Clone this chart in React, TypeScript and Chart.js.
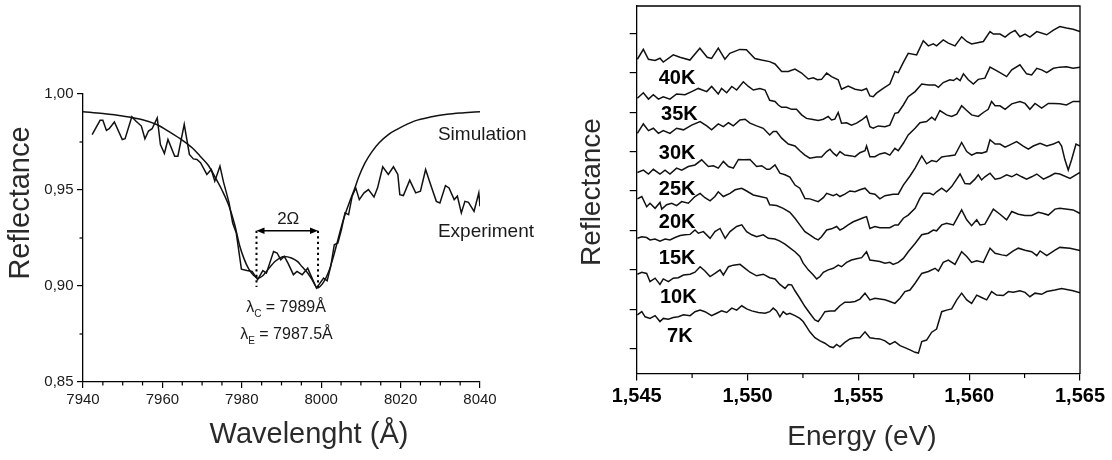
import React, { useEffect, useRef } from "react";
import { Chart, registerables } from "chart.js";

Chart.register(...registerables);

const FONT = '"Liberation Sans", Arial, Helvetica, sans-serif';
const INK = "#1a1a1a";

// ---------------- Left panel data ----------------
const wavelengthTicks = [7940, 7960, 7980, 8000, 8020, 8040];
const reflectanceTicks = [0.85, 0.9, 0.95, 1.0];
const reflectanceMinorTicks = [0.875, 0.925, 0.975];

const experiment: [number, number][] = [
  [7942.3, 0.9789], [7944.3, 0.9863], [7945.0, 0.9863], [7945.9, 0.981], [7946.6, 0.9819],
  [7947.9, 0.9854], [7949.9, 0.9763], [7950.6, 0.9767], [7952.3, 0.9882], [7953.3, 0.9859],
  [7954.7, 0.9833], [7955.6, 0.9767], [7956.5, 0.9807], [7957.4, 0.9819], [7958.7, 0.9875],
  [7959.5, 0.9737], [7960.5, 0.969], [7961.4, 0.9763], [7963.1, 0.9676], [7963.9, 0.9676],
  [7965.5, 0.9842], [7966.8, 0.9685], [7967.8, 0.9662], [7968.7, 0.9659], [7969.6, 0.9642],
  [7971.2, 0.9581], [7972.3, 0.9607], [7973.2, 0.9546], [7974.5, 0.9624], [7975.4, 0.9541],
  [7976.8, 0.9433], [7977.7, 0.9328], [7978.6, 0.9276], [7979.9, 0.9088], [7981.3, 0.9081],
  [7982.6, 0.9076], [7984.0, 0.9033], [7985.3, 0.908], [7986.2, 0.9067], [7988.0, 0.918],
  [7988.9, 0.9172], [7989.8, 0.9137], [7990.7, 0.9154], [7991.6, 0.912], [7993.0, 0.9059],
  [7993.9, 0.9076], [7995.2, 0.9059], [7996.6, 0.9093], [7997.5, 0.905], [7998.8, 0.8989],
  [7999.7, 0.9015], [8000.6, 0.9041], [8001.5, 0.9027], [8002.4, 0.9102], [8003.3, 0.9215],
  [8004.2, 0.9224], [8005.1, 0.9294], [8006.0, 0.9381], [8006.9, 0.9372], [8007.8, 0.9468],
  [8008.7, 0.9511], [8009.6, 0.945], [8010.8, 0.9485], [8011.9, 0.9502], [8013.3, 0.9464],
  [8014.2, 0.9511], [8015.5, 0.9621], [8016.9, 0.9581], [8018.2, 0.9621], [8019.3, 0.9581],
  [8019.8, 0.9476], [8020.7, 0.9471], [8022.3, 0.9551], [8023.8, 0.9485], [8025.0, 0.9494],
  [8026.3, 0.9607], [8027.7, 0.952], [8029.0, 0.9441], [8029.9, 0.9433], [8031.3, 0.9523],
  [8032.2, 0.9511], [8033.5, 0.945], [8034.3, 0.9468], [8035.3, 0.9381], [8036.2, 0.9441],
  [8037.1, 0.9436], [8038.5, 0.9389], [8039.7, 0.9485], [8040.0, 0.9415],
];

const simulation: [number, number][] = [
  [7940, 0.9908], [7945, 0.9898], [7950, 0.9885], [7955, 0.9866], [7958.7, 0.984],
  [7962, 0.98], [7965, 0.976], [7967.5, 0.972], [7969.5, 0.9676], [7971.5, 0.963],
  [7973.2, 0.957], [7975, 0.95], [7976.8, 0.9415], [7978.2, 0.932], [7979.5, 0.9207],
  [7980.6, 0.914], [7981.7, 0.909], [7983, 0.9055], [7984.1, 0.904], [7985.2, 0.9052],
  [7986.2, 0.9076], [7988.5, 0.913], [7990.7, 0.9154], [7992.5, 0.9146], [7994, 0.9128],
  [7995.2, 0.91], [7996.5, 0.907], [7997.5, 0.904], [7999.1, 0.899], [8000.6, 0.902],
  [8001.8, 0.907], [8002.9, 0.914], [8004.2, 0.924], [8005.6, 0.9346], [8007, 0.943],
  [8008.3, 0.95], [8009.5, 0.957], [8011, 0.964], [8012.8, 0.97], [8014.6, 0.9746],
  [8017, 0.979], [8019.1, 0.9816], [8023.6, 0.986], [8027.5, 0.988], [8031.7, 0.9894],
  [8036, 0.9902], [8040, 0.9908],
];

// annotation anchors (data units)
const omegaLeft = 7983.7;
const omegaRight = 7999.2;
const omegaArrowR = 0.9288;
const omegaDotBottomR = 0.8995;

// ---------------- Right panel data ----------------
const energyTicks = [1.545, 1.55, 1.555, 1.56, 1.565];
const energyMinorTicks = [1.5475, 1.5525, 1.5575, 1.5625];
const offsetTicks = [0, 1, 2, 3, 4, 5, 6, 7, 8];

const curve40K: [number, number][] = [
  [1.54503, 7.34], [1.5453, 7.59], [1.54553, 7.34], [1.54583, 7.31], [1.54605, 7.365],
  [1.5462, 7.27], [1.54665, 7.45], [1.54695, 7.39], [1.5474, 7.32], [1.54785, 7.62],
  [1.54818, 7.39], [1.54838, 7.36], [1.54868, 7.62], [1.54898, 7.34], [1.5492, 7.49],
  [1.54965, 7.59], [1.54995, 7.58], [1.55033, 7.36], [1.55063, 7.32], [1.551, 7.28],
  [1.55124, 7.22], [1.55154, 7.03], [1.55184, 7.03], [1.55214, 7.09], [1.55244, 6.99],
  [1.55274, 6.84], [1.55297, 6.87], [1.55315, 6.82], [1.55334, 6.83], [1.55357, 6.99],
  [1.55379, 6.9], [1.55409, 6.82], [1.55424, 6.58], [1.55454, 6.66], [1.55485, 6.58],
  [1.55515, 6.55], [1.55537, 6.6], [1.55552, 6.41], [1.55567, 6.39], [1.55582, 6.48],
  [1.55612, 6.6], [1.55642, 6.71], [1.55665, 7.03], [1.5568, 7.0], [1.55703, 7.26],
  [1.55725, 7.49], [1.55763, 7.45], [1.55793, 7.81], [1.55816, 7.68], [1.55838, 7.73],
  [1.55853, 7.68], [1.55883, 7.83], [1.55906, 7.75], [1.55936, 7.68], [1.55966, 7.91],
  [1.55989, 7.79], [1.56011, 7.73], [1.56064, 7.79], [1.56094, 8.04], [1.56109, 7.98],
  [1.56139, 7.98], [1.56162, 7.9], [1.56184, 8.0], [1.56207, 8.07], [1.56229, 7.91],
  [1.56252, 7.98], [1.56274, 7.9], [1.56305, 8.04], [1.5635, 7.96], [1.5638, 8.08],
  [1.56409, 8.17], [1.56439, 8.13], [1.56469, 8.1], [1.565, 8.04],
];

const curve35K: [number, number][] = [
  [1.54503, 6.35], [1.5453, 6.49], [1.54553, 6.33], [1.54575, 6.44], [1.54598, 6.33],
  [1.5462, 6.39], [1.5465, 6.33], [1.5468, 6.46], [1.54718, 6.44], [1.54748, 6.52],
  [1.54778, 6.6], [1.54816, 6.52], [1.54838, 6.65], [1.54868, 6.46], [1.54883, 6.6],
  [1.54906, 6.49], [1.54929, 6.65], [1.54951, 6.56], [1.54981, 6.77], [1.55004, 6.65],
  [1.55026, 6.56], [1.55056, 6.6], [1.55079, 6.56], [1.551, 6.3], [1.55124, 6.27],
  [1.55139, 6.18], [1.55154, 6.12], [1.55176, 6.12], [1.55199, 6.07], [1.55221, 6.07],
  [1.55244, 5.93], [1.55266, 5.84], [1.55289, 5.82], [1.55319, 5.79], [1.55342, 5.82],
  [1.55364, 5.89], [1.55379, 5.8], [1.55394, 5.82], [1.55409, 5.99], [1.55424, 5.72],
  [1.55447, 5.73], [1.55469, 5.67], [1.55492, 5.72], [1.55515, 5.8], [1.55537, 5.9],
  [1.55552, 5.63], [1.55567, 5.59], [1.5559, 5.65], [1.5562, 5.63], [1.55642, 5.67],
  [1.55665, 5.97], [1.5568, 5.99], [1.55703, 6.18], [1.55725, 6.39], [1.55756, 6.52],
  [1.55786, 6.71], [1.55816, 6.69], [1.55846, 6.69], [1.55861, 6.63], [1.55883, 6.75],
  [1.55913, 6.82], [1.55929, 6.8], [1.55944, 6.86], [1.55959, 6.8], [1.55974, 6.97],
  [1.55996, 6.82], [1.56019, 6.71], [1.56041, 6.83], [1.56071, 6.86], [1.56094, 7.14],
  [1.56117, 7.07], [1.56139, 7.0], [1.56169, 6.9], [1.56192, 7.07], [1.56229, 7.2],
  [1.56259, 6.97], [1.56282, 6.94], [1.56305, 7.11], [1.56327, 7.07], [1.5635, 7.0],
  [1.5638, 7.11], [1.56409, 7.14], [1.56439, 7.15], [1.56469, 7.11], [1.565, 7.14],
];

const curve30K: [number, number][] = [
  [1.54503, 5.46], [1.5453, 5.7], [1.54553, 5.53], [1.54575, 5.59], [1.54598, 5.46],
  [1.5462, 5.53], [1.5465, 5.46], [1.5468, 5.59], [1.54711, 5.55], [1.54748, 5.67],
  [1.54786, 5.76], [1.54816, 5.65], [1.54838, 5.55], [1.54868, 5.7], [1.54891, 5.63],
  [1.54914, 5.73], [1.54936, 5.65], [1.54966, 5.8], [1.54989, 5.82], [1.55011, 5.72],
  [1.55041, 5.65], [1.55071, 5.59], [1.551, 5.42], [1.55116, 5.51], [1.55131, 5.51],
  [1.55154, 5.34], [1.55184, 5.19], [1.55214, 5.14], [1.55236, 5.02], [1.55259, 4.91],
  [1.55281, 4.83], [1.55312, 4.86], [1.55334, 4.86], [1.55357, 5.0], [1.55372, 5.06],
  [1.55387, 4.96], [1.55402, 4.89], [1.55417, 5.0], [1.55439, 4.91], [1.55469, 4.89],
  [1.55485, 4.87], [1.55507, 4.97], [1.5553, 5.02], [1.55537, 5.14], [1.55552, 4.87],
  [1.55575, 4.87], [1.55597, 4.94], [1.5562, 4.97], [1.55642, 4.91], [1.55665, 5.08],
  [1.5568, 5.02], [1.55703, 5.21], [1.55725, 5.42], [1.55756, 5.59], [1.55778, 5.73],
  [1.55808, 5.76], [1.55831, 5.87], [1.55846, 5.8], [1.55868, 6.04], [1.55898, 5.93],
  [1.55921, 5.89], [1.55944, 5.95], [1.55966, 6.16], [1.55989, 6.04], [1.56011, 5.93],
  [1.56041, 5.89], [1.56064, 5.99], [1.56086, 6.07], [1.56101, 6.27], [1.56117, 6.16],
  [1.56139, 6.16], [1.56162, 6.07], [1.56192, 6.21], [1.56229, 6.27], [1.56252, 6.22],
  [1.56274, 6.07], [1.56297, 6.22], [1.56327, 6.1], [1.56357, 6.22], [1.5638, 6.22],
  [1.56409, 6.21], [1.56439, 6.18], [1.56469, 6.27], [1.565, 6.27],
];

const curve25K: [number, number][] = [
  [1.54503, 4.47], [1.5453, 4.53], [1.54553, 4.43], [1.54575, 4.55], [1.54605, 4.43],
  [1.54628, 4.53], [1.5465, 4.43], [1.5468, 4.58], [1.54703, 4.53], [1.54733, 4.62],
  [1.54763, 4.66], [1.54793, 4.79], [1.54823, 4.62], [1.54846, 4.64], [1.54868, 4.58],
  [1.54891, 4.75], [1.54914, 4.62], [1.54936, 4.58], [1.54959, 4.8], [1.54981, 4.79],
  [1.55011, 4.8], [1.55041, 4.62], [1.55064, 4.64], [1.55087, 4.55], [1.551, 4.55],
  [1.55124, 4.66], [1.55146, 4.45], [1.55169, 4.41], [1.55191, 4.35], [1.55214, 4.15],
  [1.55236, 4.07], [1.55251, 3.9], [1.55259, 3.81], [1.55281, 3.8], [1.55319, 3.73],
  [1.55342, 3.83], [1.55357, 3.94], [1.55387, 3.88], [1.55402, 3.92], [1.55417, 3.86],
  [1.55439, 3.92], [1.55462, 4.0], [1.55485, 3.98], [1.55507, 4.03], [1.5553, 4.07],
  [1.55552, 3.94], [1.55575, 3.92], [1.55597, 3.8], [1.5562, 3.88], [1.55657, 3.92],
  [1.5568, 3.92], [1.55703, 4.15], [1.55733, 4.38], [1.55756, 4.58], [1.55786, 4.89],
  [1.55808, 4.69], [1.55831, 4.77], [1.55853, 4.74], [1.55876, 4.86], [1.55906, 4.89],
  [1.55936, 4.91], [1.55966, 5.23], [1.55989, 5.0], [1.56011, 4.91], [1.56034, 4.97],
  [1.56056, 4.96], [1.56079, 5.0], [1.56094, 5.3], [1.56117, 5.19], [1.56139, 5.19],
  [1.56162, 5.11], [1.56184, 5.17], [1.56214, 5.25], [1.56244, 5.14], [1.56267, 5.06],
  [1.56289, 5.14], [1.5632, 5.21], [1.5635, 5.14], [1.5638, 5.19], [1.56404, 5.25],
  [1.56417, 5.14], [1.56432, 4.79], [1.56447, 4.53], [1.56462, 4.79], [1.56482, 5.19],
  [1.565, 5.14],
];

const curve20K: [number, number][] = [
  [1.54503, 3.8], [1.54523, 3.86], [1.54545, 3.6], [1.5456, 3.69], [1.54583, 3.56],
  [1.54605, 3.71], [1.54613, 3.54], [1.54635, 3.65], [1.54658, 3.69], [1.5468, 3.63],
  [1.54703, 3.73], [1.54733, 3.69], [1.54763, 3.86], [1.54786, 3.94], [1.54808, 3.83],
  [1.54831, 3.75], [1.54853, 3.86], [1.54868, 3.98], [1.54891, 3.86], [1.54921, 3.94],
  [1.54944, 4.03], [1.54974, 4.07], [1.54996, 4.0], [1.55026, 3.9], [1.55056, 3.86],
  [1.55087, 3.82], [1.551, 3.65], [1.55131, 3.63], [1.55161, 3.56], [1.55191, 3.46],
  [1.55214, 3.31], [1.55236, 3.14], [1.55259, 2.97], [1.55281, 2.89], [1.55304, 2.8],
  [1.55319, 2.76], [1.55334, 2.84], [1.55357, 3.01], [1.55379, 3.04], [1.55402, 3.1],
  [1.55417, 3.01], [1.55432, 3.05], [1.55454, 3.14], [1.55477, 3.22], [1.555, 3.27],
  [1.55522, 3.32], [1.55537, 3.35], [1.55552, 3.05], [1.55575, 3.1], [1.55597, 3.07],
  [1.5562, 3.07], [1.55642, 3.07], [1.55665, 3.14], [1.5568, 3.14], [1.55703, 3.31],
  [1.55725, 3.39], [1.55756, 3.56], [1.55778, 3.82], [1.55793, 3.94], [1.55823, 3.94],
  [1.55838, 3.9], [1.55853, 3.98], [1.55876, 4.07], [1.55898, 3.98], [1.55921, 4.11],
  [1.55959, 4.43], [1.55981, 4.19], [1.56004, 4.18], [1.56026, 4.3], [1.56041, 4.41],
  [1.56056, 4.28], [1.56071, 4.36], [1.56094, 4.45], [1.56117, 4.3], [1.56139, 4.32],
  [1.56169, 4.41], [1.56192, 4.36], [1.56214, 4.43], [1.56237, 4.36], [1.56259, 4.3],
  [1.56282, 4.36], [1.56305, 4.43], [1.56335, 4.3], [1.56365, 4.38], [1.56387, 4.45],
  [1.56409, 4.43], [1.56455, 4.32], [1.565, 4.47],
];

const curve15K: [number, number][] = [
  [1.54503, 2.8], [1.54523, 2.84], [1.54545, 2.82], [1.5456, 2.76], [1.54583, 2.78],
  [1.54605, 2.73], [1.54628, 2.78], [1.5465, 2.76], [1.54673, 2.82], [1.54696, 2.87],
  [1.54718, 2.89], [1.54741, 2.9], [1.54763, 3.01], [1.54778, 2.93], [1.54801, 2.97],
  [1.54831, 2.8], [1.54853, 2.97], [1.54876, 3.05], [1.54899, 2.8], [1.54921, 2.97],
  [1.54951, 3.1], [1.54974, 3.14], [1.54996, 2.97], [1.55019, 2.89], [1.55041, 2.84],
  [1.55071, 2.89], [1.55094, 2.8], [1.55124, 2.78], [1.55146, 2.73], [1.55169, 2.65],
  [1.55191, 2.56], [1.55214, 2.46], [1.55236, 2.34], [1.55251, 2.17], [1.55274, 2.0],
  [1.55297, 1.87], [1.55312, 1.77], [1.55327, 1.83], [1.55342, 1.94], [1.55364, 2.0],
  [1.55387, 2.04], [1.55409, 2.12], [1.55424, 2.08], [1.55447, 2.19], [1.55469, 2.25],
  [1.55492, 2.28], [1.55515, 2.31], [1.55537, 2.46], [1.55552, 2.25], [1.55575, 2.23],
  [1.55597, 2.21], [1.5562, 2.17], [1.55642, 2.19], [1.55657, 2.14], [1.5568, 2.19],
  [1.55703, 2.29], [1.55725, 2.46], [1.55756, 2.67], [1.55786, 2.89], [1.55816, 2.93],
  [1.55838, 3.01], [1.55853, 2.99], [1.55876, 3.14], [1.55898, 3.18], [1.55929, 3.14],
  [1.55966, 3.52], [1.55989, 3.27], [1.56011, 3.12], [1.56034, 3.27], [1.56049, 3.14],
  [1.56071, 3.16], [1.56109, 3.54], [1.56139, 3.41], [1.56169, 3.27], [1.56192, 3.48],
  [1.56222, 3.41], [1.56252, 3.38], [1.56282, 3.38], [1.56312, 3.46], [1.56335, 3.43],
  [1.56357, 3.39], [1.56387, 3.54], [1.56409, 3.56], [1.56469, 3.52], [1.565, 3.43],
];

const curve10K: [number, number][] = [
  [1.54503, 1.89], [1.54523, 1.94], [1.54545, 1.91], [1.5456, 1.7], [1.54583, 1.79],
  [1.54605, 1.63], [1.5462, 1.77], [1.54643, 1.7], [1.54665, 1.79], [1.54688, 1.8],
  [1.54711, 1.87], [1.54741, 1.89], [1.54763, 1.94], [1.54786, 2.08], [1.54808, 1.97],
  [1.54831, 1.83], [1.54853, 1.91], [1.54876, 2.0], [1.54891, 1.87], [1.54914, 2.08],
  [1.54936, 2.12], [1.54966, 2.14], [1.54989, 2.04], [1.55011, 1.94], [1.55041, 1.85],
  [1.55071, 1.89], [1.551, 1.8], [1.55124, 1.77], [1.55146, 1.63], [1.55169, 1.53],
  [1.55184, 1.63], [1.55199, 1.62], [1.55214, 1.47], [1.55236, 1.28], [1.55259, 1.07],
  [1.55281, 0.9], [1.55304, 0.73], [1.55319, 0.69], [1.55334, 0.81], [1.55349, 0.94],
  [1.55372, 0.96], [1.55394, 0.96], [1.55417, 1.09], [1.55439, 1.18], [1.55462, 1.18],
  [1.55485, 1.2], [1.55507, 1.26], [1.5553, 1.41], [1.55552, 1.24], [1.55575, 1.28],
  [1.55597, 1.26], [1.5562, 1.24], [1.55642, 1.2], [1.55665, 1.15], [1.55688, 1.28],
  [1.5571, 1.45], [1.55733, 1.49], [1.55756, 1.66], [1.55786, 1.91], [1.55816, 1.96],
  [1.55846, 2.04], [1.55861, 1.97], [1.55883, 2.19], [1.55906, 2.25], [1.55936, 2.14],
  [1.55966, 2.46], [1.55989, 2.34], [1.56011, 2.19], [1.56034, 2.23], [1.56064, 2.19],
  [1.56094, 2.55], [1.56117, 2.42], [1.56147, 2.38], [1.56169, 2.36], [1.56199, 2.48],
  [1.56222, 2.55], [1.56252, 2.5], [1.56282, 2.46], [1.56305, 2.36], [1.5632, 2.48],
  [1.5635, 2.36], [1.56387, 2.5], [1.56409, 2.57], [1.56455, 2.55], [1.565, 2.49],
];

const curve7K: [number, number][] = [
  [1.54503, 0.86], [1.54523, 0.94], [1.54538, 0.81], [1.5456, 0.77], [1.54583, 0.84],
  [1.54605, 0.69], [1.5462, 0.77], [1.54643, 0.75], [1.54665, 0.79], [1.54688, 0.81],
  [1.54711, 0.86], [1.54741, 0.84], [1.54763, 0.94], [1.54786, 0.98], [1.54808, 0.94],
  [1.54838, 0.84], [1.54861, 0.9], [1.54883, 0.96], [1.54906, 0.92], [1.54929, 1.03],
  [1.54951, 0.98], [1.54974, 1.09], [1.54996, 1.01], [1.55019, 0.96], [1.55049, 0.92],
  [1.55079, 0.9], [1.551, 0.94], [1.55116, 1.03], [1.55131, 0.96], [1.55146, 0.81],
  [1.55161, 0.94], [1.55176, 0.87], [1.55191, 0.9], [1.55214, 0.84], [1.55236, 0.77],
  [1.55251, 0.69], [1.55266, 0.56], [1.55281, 0.43], [1.55304, 0.28], [1.55327, 0.2],
  [1.55349, 0.14], [1.55372, 0.05], [1.55387, 0.03], [1.55402, 0.11], [1.55417, 0.05],
  [1.55439, 0.16], [1.55462, 0.25], [1.55485, 0.28], [1.55507, 0.28], [1.5553, 0.43],
  [1.55552, 0.28], [1.55575, 0.26], [1.55597, 0.25], [1.5562, 0.2], [1.55642, 0.11],
  [1.55665, 0.18], [1.55688, 0.08], [1.5571, 0.03], [1.55733, -0.03], [1.55756, -0.09],
  [1.55771, -0.11], [1.55786, 0.18], [1.55808, 0.22], [1.55831, 0.42], [1.55853, 0.5],
  [1.55876, 0.94], [1.55898, 0.98], [1.55921, 1.01], [1.55944, 1.24], [1.55966, 1.41],
  [1.55989, 1.24], [1.56011, 1.15], [1.56034, 1.36], [1.56056, 1.3], [1.56079, 1.24],
  [1.56101, 1.45], [1.56124, 1.36], [1.56154, 1.35], [1.56177, 1.45], [1.56199, 1.43],
  [1.56229, 1.47], [1.56252, 1.43], [1.56274, 1.32], [1.56297, 1.41], [1.56327, 1.38],
  [1.5635, 1.45], [1.56387, 1.49], [1.56417, 1.53], [1.56469, 1.47], [1.565, 1.42],
];

const temperatureLabels = ["40K", "35K", "30K", "25K", "20K", "15K", "10K", "7K"];
const temperatureCurves = [curve40K, curve35K, curve30K, curve25K, curve20K, curve15K, curve10K, curve7K];
// label anchor (energy, offset) : left edge, vertical middle
const labelEnergy = [1.54599, 1.5461, 1.546, 1.546, 1.546, 1.546, 1.54605, 1.54637];
const labelOffset = [6.84, 5.93, 4.95, 4.03, 3.19, 2.28, 1.31, 0.3];

const toXY = (arr: [number, number][]) => arr.map(([x, y]) => ({ x, y }));
const commaFmt = (v: number, d: number) => v.toFixed(d).replace(".", ",");

function drawSubscriptText(
  ctx: CanvasRenderingContext2D, x: number, y: number, main: string, sub: string, rest: string, size: number
) {
  ctx.textBaseline = "middle";
  ctx.textAlign = "left";
  ctx.font = `${size}px ${FONT}`;
  ctx.fillText(main, x, y);
  let cx = x + ctx.measureText(main).width;
  ctx.font = `${Math.round(size * 0.62)}px ${FONT}`;
  ctx.fillText(sub, cx, y + size * 0.38);
  cx += ctx.measureText(sub).width;
  ctx.font = `${size}px ${FONT}`;
  ctx.fillText(rest, cx, y);
}

const leftDecor = {
  id: "leftDecor",
  afterDraw(chart: any) {
    const { ctx, chartArea, scales } = chart;
    const xs = scales.x;
    const ys = scales.y;
    ctx.save();
    ctx.strokeStyle = "#000";
    ctx.lineWidth = 1.2;
    // minor ticks
    for (let v = wavelengthTicks[0]; v <= wavelengthTicks[wavelengthTicks.length - 1]; v += 5) {
      if (wavelengthTicks.includes(v)) continue;
      const px = xs.getPixelForValue(v);
      ctx.beginPath();
      ctx.moveTo(px, chartArea.bottom);
      ctx.lineTo(px, chartArea.bottom + 3.5);
      ctx.stroke();
    }
    for (const v of reflectanceMinorTicks) {
      const py = ys.getPixelForValue(v);
      ctx.beginPath();
      ctx.moveTo(chartArea.left - 3.5, py);
      ctx.lineTo(chartArea.left, py);
      ctx.stroke();
    }
    // 2Ω arrow
    const xl = xs.getPixelForValue(omegaLeft);
    const xr = xs.getPixelForValue(omegaRight);
    const ya = ys.getPixelForValue(omegaArrowR);
    const yb = ys.getPixelForValue(omegaDotBottomR);
    ctx.lineWidth = 1.6;
    ctx.beginPath();
    ctx.moveTo(xl + 4, ya);
    ctx.lineTo(xr - 4, ya);
    ctx.stroke();
    ctx.fillStyle = "#000";
    ctx.beginPath();
    ctx.moveTo(xl, ya);
    ctx.lineTo(xl + 8, ya - 3.2);
    ctx.lineTo(xl + 8, ya + 3.2);
    ctx.closePath();
    ctx.fill();
    ctx.beginPath();
    ctx.moveTo(xr, ya);
    ctx.lineTo(xr - 8, ya - 3.2);
    ctx.lineTo(xr - 8, ya + 3.2);
    ctx.closePath();
    ctx.fill();
    ctx.setLineDash([2.2, 3.3]);
    ctx.lineWidth = 2;
    for (const px of [xl, xr]) {
      ctx.beginPath();
      ctx.moveTo(px, ya);
      ctx.lineTo(px, yb);
      ctx.stroke();
    }
    ctx.setLineDash([]);
    // texts
    ctx.fillStyle = INK;
    ctx.textBaseline = "middle";
    ctx.font = `17px ${FONT}`;
    ctx.textAlign = "center";
    ctx.fillText("2Ω", xs.getPixelForValue(7991.7), ys.getPixelForValue(0.9349));
    ctx.font = `19px ${FONT}`;
    ctx.textAlign = "left";
    ctx.fillText("Simulation", xs.getPixelForValue(8029.4), ys.getPixelForValue(0.9786));
    ctx.fillText("Experiment", xs.getPixelForValue(8029.4), ys.getPixelForValue(0.9281));
    drawSubscriptText(ctx, xs.getPixelForValue(7981.1), ys.getPixelForValue(0.8885), "λ", "C", " = 7989Å", 16);
    drawSubscriptText(ctx, xs.getPixelForValue(7979.6), ys.getPixelForValue(0.8745), "λ", "E", " = 7987.5Å", 16);
    // axis titles
    ctx.font = `29px ${FONT}`;
    ctx.textAlign = "center";
    ctx.fillStyle = "#2a2a2a";
    ctx.fillText("Wavelenght (Å)", 309, 435);
    ctx.save();
    ctx.translate(21, 203);
    ctx.rotate(-Math.PI / 2);
    ctx.fillText("Reflectance", 0, 0);
    ctx.restore();
    ctx.restore();
  },
};

const rightDecor = {
  id: "rightDecor",
  afterDraw(chart: any) {
    const { ctx, chartArea, scales } = chart;
    const xs = scales.x;
    const ys = scales.y;
    ctx.save();
    ctx.strokeStyle = "#000";
    ctx.lineWidth = 1.3;
    ctx.beginPath();
    ctx.moveTo(chartArea.left, chartArea.top);
    ctx.lineTo(chartArea.right, chartArea.top);
    ctx.lineTo(chartArea.right, chartArea.bottom);
    ctx.stroke();
    ctx.lineWidth = 1.2;
    for (const v of energyMinorTicks) {
      const px = xs.getPixelForValue(v);
      ctx.beginPath();
      ctx.moveTo(px, chartArea.bottom);
      ctx.lineTo(px, chartArea.bottom + 4);
      ctx.stroke();
    }
    ctx.fillStyle = "#000";
    ctx.font = `bold 20px ${FONT}`;
    ctx.textAlign = "left";
    ctx.textBaseline = "middle";
    temperatureLabels.forEach((t, i) => {
      ctx.fillText(t, xs.getPixelForValue(labelEnergy[i]), ys.getPixelForValue(labelOffset[i]));
    });
    ctx.fillStyle = "#2a2a2a";
    ctx.font = `28px ${FONT}`;
    ctx.textAlign = "center";
    ctx.fillText("Energy (eV)", 302, 437);
    ctx.save();
    ctx.translate(32, 192);
    ctx.rotate(-Math.PI / 2);
    ctx.fillText("Reflectance", 0, 0);
    ctx.restore();
    ctx.restore();
  },
};

export default function App() {
  const leftRef = useRef<HTMLCanvasElement | null>(null);
  const rightRef = useRef<HTMLCanvasElement | null>(null);

  useEffect(() => {
    document.body.style.margin = "0";
    const lineBase = {
      borderColor: "#111",
      borderWidth: 1.5,
      pointRadius: 0,
      fill: false,
    };
    const left = new Chart(leftRef.current as HTMLCanvasElement, {
      type: "line",
      data: {
        datasets: [
          { ...lineBase, label: "Simulation", data: toXY(simulation), cubicInterpolationMode: "monotone" } as any,
          { ...lineBase, label: "Experiment", data: toXY(experiment), tension: 0 } as any,
        ],
      },
      options: {
        animation: false,
        responsive: false,
        devicePixelRatio: 1,
        layout: { padding: { left: 0, right: 80, top: 94, bottom: 0 } },
        plugins: { legend: { display: false }, tooltip: { enabled: false } },
        scales: {
          x: {
            type: "linear",
            min: 7940,
            max: 8040,
            afterBuildTicks: (axis: any) => {
              axis.ticks = wavelengthTicks.map((v) => ({ value: v }));
            },
            afterFit: (s: any) => {
              s.height = 78;
            },
            ticks: {
              color: INK,
              font: { family: FONT, size: 15 },
              padding: 3,
              maxRotation: 0,
              autoSkip: false,
              callback: (v: any) => String(v),
            },
            grid: { drawOnChartArea: false, drawTicks: true, tickLength: 6, color: "#000", lineWidth: 1.2 },
            border: { display: true, color: "#000", width: 1.3 },
          },
          y: {
            type: "linear",
            min: 0.85,
            max: 1.0,
            afterBuildTicks: (axis: any) => {
              axis.ticks = reflectanceTicks.map((v) => ({ value: v }));
            },
            afterFit: (s: any) => {
              s.width = 83;
            },
            ticks: {
              color: INK,
              font: { family: FONT, size: 15 },
              padding: 3.5,
              autoSkip: false,
              callback: (v: any) => commaFmt(Number(v), 2),
            },
            grid: { drawOnChartArea: false, drawTicks: true, tickLength: 6, color: "#000", lineWidth: 1.2 },
            border: { display: true, color: "#000", width: 1.3 },
          },
        },
      },
      plugins: [leftDecor],
    });

    const right = new Chart(rightRef.current as HTMLCanvasElement, {
      type: "line",
      data: {
        datasets: temperatureCurves.map((c, i) => ({
          ...lineBase,
          label: temperatureLabels[i],
          data: toXY(c),
          tension: 0,
        })) as any,
      },
      options: {
        animation: false,
        responsive: false,
        devicePixelRatio: 1,
        layout: { padding: { left: 0, right: 32, top: 6, bottom: 0 } },
        plugins: { legend: { display: false }, tooltip: { enabled: false } },
        scales: {
          x: {
            type: "linear",
            min: 1.545,
            max: 1.565,
            afterBuildTicks: (axis: any) => {
              axis.ticks = energyTicks.map((v) => ({ value: v }));
            },
            afterFit: (s: any) => {
              s.height = 86;
            },
            ticks: {
              color: "#000",
              font: { family: FONT, size: 20, weight: "bold" },
              padding: 4,
              maxRotation: 0,
              autoSkip: false,
              callback: (v: any) => commaFmt(Number(v), 3),
            },
            grid: { drawOnChartArea: false, drawTicks: true, tickLength: 6.5, color: "#000", lineWidth: 1.2 },
            border: { display: true, color: "#000", width: 1.3 },
          },
          y: {
            type: "linear",
            min: -0.64,
            max: 8.69,
            afterBuildTicks: (axis: any) => {
              axis.ticks = offsetTicks.map((v) => ({ value: v }));
            },
            afterFit: (s: any) => {
              s.width = 76.7;
            },
            ticks: { display: false },
            grid: { drawOnChartArea: false, drawTicks: true, tickLength: 7, color: "#000", lineWidth: 1.2 },
            border: { display: true, color: "#000", width: 1.3 },
          },
        },
      },
      plugins: [rightDecor],
    });

    return () => {
      left.destroy();
      right.destroy();
    };
  }, []);

  return (
    <div style={{ position: "fixed", left: 0, top: 0, width: 1112, height: 460, background: "#fff" }}>
      <canvas ref={leftRef} width={560} height={460} style={{ position: "absolute", left: 0, top: 0, width: 560, height: 460 }} />
      <canvas ref={rightRef} width={552} height={460} style={{ position: "absolute", left: 560, top: 0, width: 552, height: 460 }} />
    </div>
  );
}
